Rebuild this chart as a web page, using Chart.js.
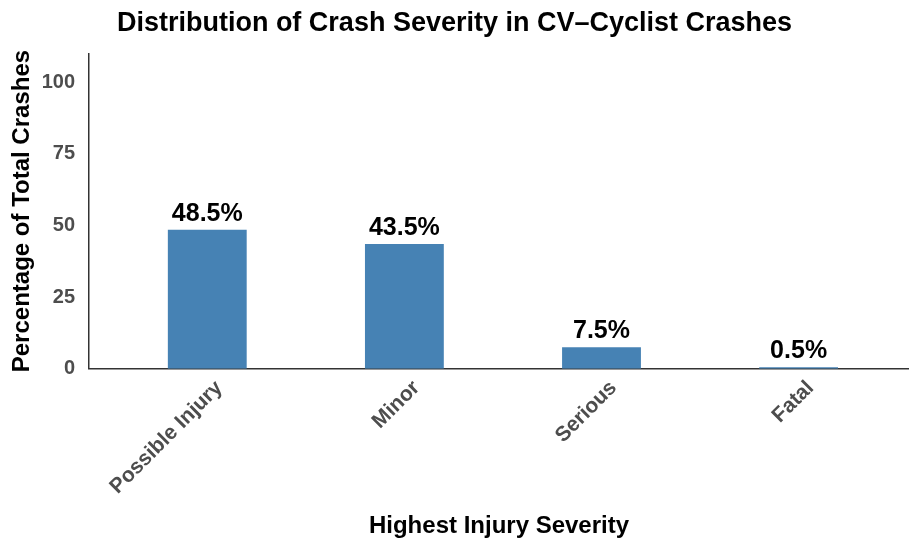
<!DOCTYPE html>
<html>
<head>
<meta charset="utf-8">
<title>Distribution of Crash Severity</title>
<script src="https://cdn.jsdelivr.net/npm/chart.js@4"></script>
<style>
  body { margin: 0; background: #fff; }
  #wrap { width: 909px; height: 543px; }
</style>
</head>
<body>
<div id="wrap"><canvas id="chart" width="909" height="543"></canvas></div>
<script>
// data
var categories = ['Possible Injury', 'Minor', 'Serious', 'Fatal'];
var percentages = [48.5, 43.5, 7.5, 0.5];
var yTicks = [0, 25, 50, 75, 100];

var FONT = '"Liberation Sans", Arial, sans-serif';
var barColor = '#4682B4';

// bar value labels ("48.5%") drawn above each bar
var barLabels = {
  id: 'barLabels',
  afterDatasetsDraw: function (chart) {
    var ctx = chart.ctx;
    var meta = chart.getDatasetMeta(0);
    ctx.save();
    ctx.font = 'bold 25px ' + FONT;
    ctx.fillStyle = '#000';
    ctx.textAlign = 'center';
    ctx.textBaseline = 'alphabetic';
    meta.data.forEach(function (bar, i) {
      ctx.fillText(percentages[i].toFixed(1) + '%', bar.x, bar.y - 9);
    });
    ctx.restore();
  }
};

var points = percentages.map(function (v, i) { return { x: i + 1, y: v }; });

var ctx = document.getElementById('chart');
var grafico = new Chart(ctx, {
  type: 'bar',
  data: {
    datasets: [{
      data: points,
      backgroundColor: barColor,
      borderWidth: 0,
      barPercentage: 0.4,
      categoryPercentage: 1
    }]
  },
  options: {
    responsive: false,
    animation: false,
    layout: { padding: 0 },
    plugins: {
      legend: { display: false },
      tooltip: { enabled: false },
      title: {
        display: true,
        text: 'Distribution of Crash Severity in CV\u2013Cyclist Crashes',
        color: '#000',
        font: { family: FONT, size: 27, weight: 'bold' },
        padding: { top: 7, bottom: 14 }
      }
    },
    scales: {
      x: {
        type: 'linear',
        offset: false,
        min: 0.4,
        max: 4.56,
        grid: { display: false, drawTicks: false, tickLength: 0 },
        border: { display: true, color: '#333', width: 1.5 },
        afterBuildTicks: function (scale) {
          scale.ticks = categories.map(function (c, i) { return { value: i + 1 }; });
        },
        afterFit: function (scale) {
          // rotated labels fit already, don't let them push the y axis
          scale.paddingLeft = 0;
          scale.paddingRight = 0;
        },
        ticks: {
          autoSkip: false,
          minRotation: 45,
          maxRotation: 45,
          padding: 7,
          labelOffset: 12,
          color: '#4d4d4d',
          font: { family: FONT, size: 21, weight: 'bold' },
          callback: function (v) { return categories[v - 1]; }
        },
        title: {
          display: true,
          text: 'Highest Injury Severity',
          color: '#000',
          font: { family: FONT, size: 24, weight: 'bold' },
          padding: { top: 6, bottom: 2 }
        }
      },
      y: {
        min: 0,
        max: 110,
        grid: { display: false, drawTicks: false, tickLength: 0 },
        border: { display: true, color: '#333', width: 1.5 },
        afterBuildTicks: function (scale) {
          scale.ticks = yTicks.map(function (t) { return { value: t }; });
        },
        afterFit: function (scale) {
          scale.width = 89;
        },
        ticks: {
          padding: 14,
          color: '#4d4d4d',
          font: { family: FONT, size: 20, weight: 'bold' }
        },
        title: {
          display: true,
          text: 'Percentage of Total Crashes',
          color: '#000',
          font: { family: FONT, size: 24, weight: 'bold' },
          padding: { top: 8, bottom: 4 }
        }
      }
    }
  },
  plugins: [barLabels]
});
</script>
</body>
</html>
